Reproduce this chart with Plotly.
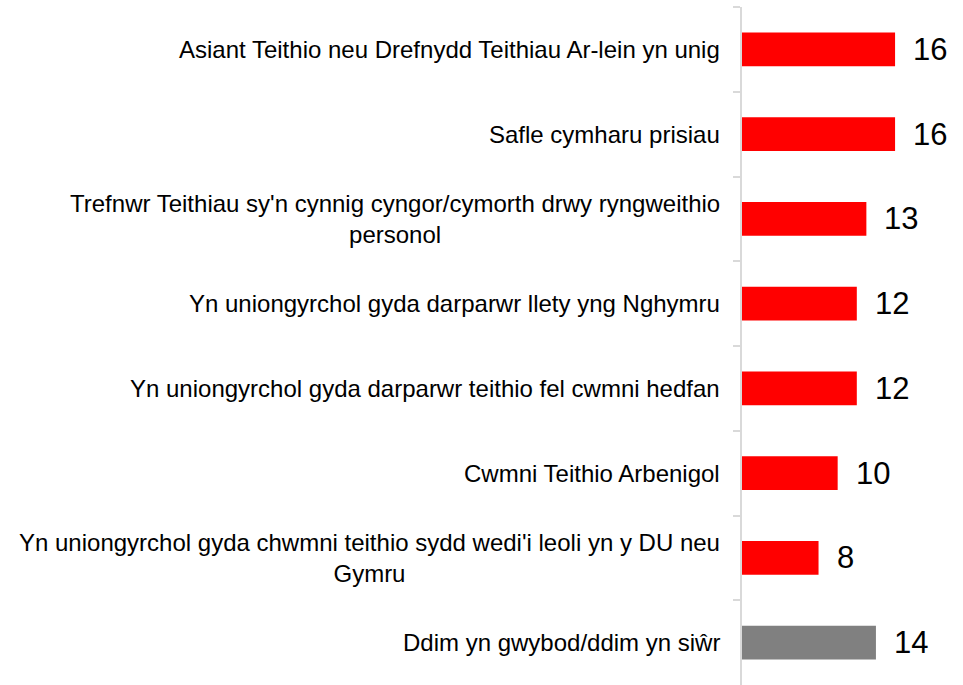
import plotly.graph_objects as go

# Survey responses: how the trip was booked (%)
categories = [
    "Asiant Teithio neu Drefnydd Teithiau Ar-lein yn unig",
    "Safle cymharu prisiau",
    "Trefnwr Teithiau sy'n cynnig cyngor/cymorth drwy ryngweithio<br>personol",
    "Yn uniongyrchol gyda darparwr llety yng Nghymru",
    "Yn uniongyrchol gyda darparwr teithio fel cwmni hedfan",
    "Cwmni Teithio Arbenigol",
    "Yn uniongyrchol gyda chwmni teithio sydd wedi'i leoli yn y DU neu<br>Gymru",
    "Ddim yn gwybod/ddim yn siŵr",
]
values = [16, 16, 13, 12, 12, 10, 8, 14]
value_labels = ["16", "16", "13", "12", "12", "10", "8", "14"]

RED = "#FF0000"
GREY = "#808080"
FONT = "Liberation Sans, Arial, sans-serif"

# "Don't know" answer shown in grey, the rest in red
bar_colors = [GREY if c.startswith("Ddim") else RED for c in categories]

fig = go.Figure(
    go.Bar(
        x=values,
        y=categories,
        orientation="h",
        width=0.4,
        marker=dict(color=bar_colors, line=dict(width=0)),
        hoverinfo="skip",
    )
)

annotations = []
for cat, val, lab in zip(categories, values, value_labels):
    # category label, right aligned against the axis, lines centred
    annotations.append(dict(
        x=0, xref="paper", y=cat, yref="y",
        text=cat, showarrow=False,
        xanchor="right", yanchor="middle", align="center",
        xshift=-20,
        font=dict(family=FONT, size=24, color="#000000"),
    ))
    # value label just past the end of the bar
    annotations.append(dict(
        x=val, xref="x", y=cat, yref="y",
        text=lab, showarrow=False,
        xanchor="left", yanchor="middle",
        xshift=16,
        font=dict(family=FONT, size=31, color="#000000"),
    ))

fig.update_layout(
    width=963, height=685,
    margin=dict(l=742, r=0, t=7, b=0),
    paper_bgcolor="white", plot_bgcolor="white",
    showlegend=False,
    annotations=annotations,
    bargap=0.6,
    xaxis=dict(
        range=[0, 23.1],
        visible=False,
        fixedrange=True,
    ),
    yaxis=dict(
        type="category",
        categoryorder="array",
        categoryarray=categories,
        range=[7.5, -0.5],
        showticklabels=False,
        showgrid=False,
        zeroline=False,
        showline=True,
        linecolor="#D9D9D9",
        linewidth=1.5,
        ticks="outside",
        tickson="boundaries",
        ticklen=7,
        tickcolor="#D9D9D9",
        tickwidth=1.5,
        fixedrange=True,
    ),
)

fig.write_html("out.html")
